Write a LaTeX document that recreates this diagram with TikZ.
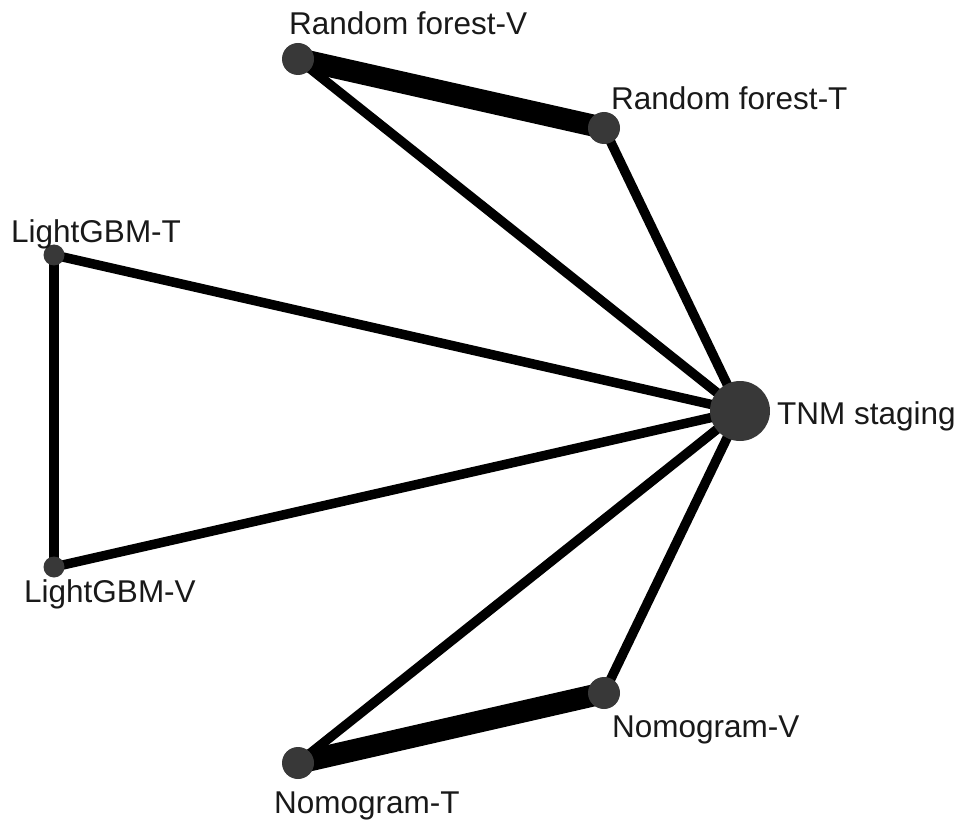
\documentclass[tikz,border=0pt]{standalone}
\usepackage{fontspec}
\setmainfont{Liberation Sans}
\usetikzlibrary{backgrounds}

\tikzset{
    vertex/.style={circle, fill=black!78, inner sep=0pt, minimum size=#1},
    vertex/.default=32pt,
    lbl/.style={anchor=base west, inner sep=0pt, text=black!90, font=\fontsize{31.5}{36}\selectfont},
    arm/.style={line width=9.5pt, black},
    thickarm/.style={line width=22pt, black}
}

\begin{document}
\begin{tikzpicture}[x=1pt, y=-1pt]
            \useasboundingbox (0, 0) rectangle (969, 834);

            \node [vertex] (RFV) at (298, 59) {};
            \node [vertex] (RFT) at (604, 128) {};
            \node [vertex=21pt] (LGT) at (54, 255) {};
            \node [vertex=21pt] (LGV) at (54, 567) {};
            \node [vertex=60pt] (TNM) at (740, 411) {};
            \node [vertex] (NV) at (604, 693) {};
            \node [vertex] (NT) at (298, 763) {};

            \node [lbl] (RFVl) at (289, 35) {Random forest-V};
            \node [lbl] (RFTl) at (611, 110) {Random forest-T};
            \node [lbl] (LGTl) at (11, 243) {LightGBM-T};
            \node [lbl] (LGVl) at (24, 602) {LightGBM-V};
            \node [lbl] (TNMl) at (777, 424) {TNM staging};
            \node [lbl] (NVl) at (612, 737) {Nomogram-V};
            \node [lbl] (NTl) at (274, 813) {Nomogram-T};

            \begin{pgfonlayer}{background}
                \draw [thickarm] (RFV.center) -- (RFT.center);
                \draw [thickarm] (NT.center) -- (NV.center);

                \draw [arm] (RFV.center) -- (TNM.center);
                \draw [arm] (RFT.center) -- (TNM.center);
                \draw [arm] (LGT.center) -- (TNM.center);
                \draw [arm] (LGV.center) -- (TNM.center);
                \draw [arm] (NT.center) -- (TNM.center);
                \draw [arm] (NV.center) -- (TNM.center);
                \draw [arm] (LGT.center) -- (LGV.center);
            \end{pgfonlayer}
        \end{tikzpicture}
\end{document}
